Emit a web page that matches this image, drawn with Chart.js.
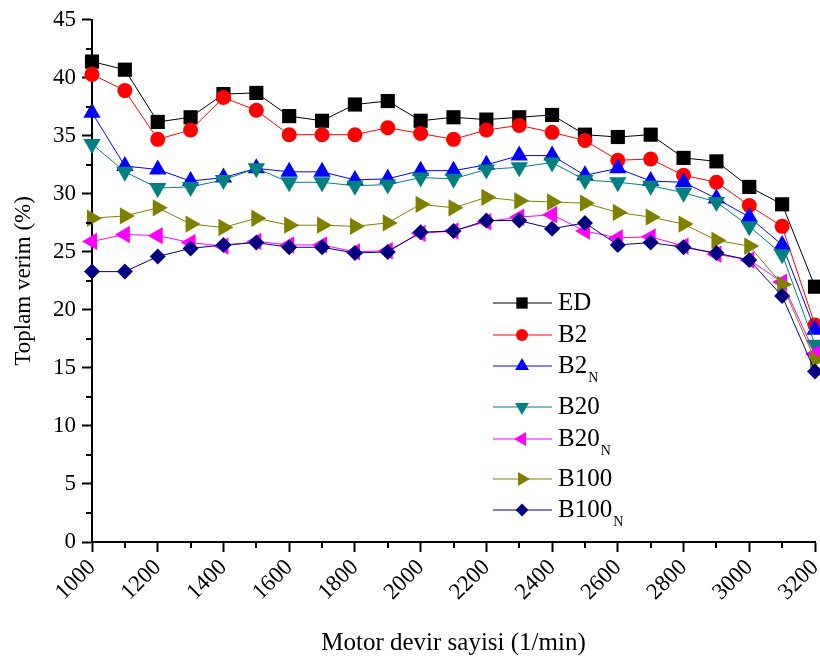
<!DOCTYPE html>
<html>
<head>
<meta charset="utf-8">
<script src="https://cdn.jsdelivr.net/npm/chart.js@4/dist/chart.umd.min.js"></script>
<style>
  html, body { margin: 0; padding: 0; background: #fff; }
  #wrap { width: 820px; height: 666px; }
</style>
</head>
<body>
<div id="wrap"><canvas id="effChart"></canvas></div>
<script>
// motor speed (1/min)
const rpm = [1000, 1100, 1200, 1300, 1400, 1500, 1600, 1700, 1800, 1900, 2000, 2100,
             2200, 2300, 2400, 2500, 2600, 2700, 2800, 2900, 3000, 3100, 3200];

// total efficiency (%) per fuel
const ED    = [41.4, 40.7, 36.2, 36.6, 38.6, 38.7, 36.7, 36.3, 37.7, 38.0, 36.3, 36.6, 36.4, 36.6, 36.8, 35.1, 34.9, 35.1, 33.1, 32.8, 30.6, 29.1, 22.0];
const B2    = [40.3, 38.9, 34.7, 35.5, 38.3, 37.2, 35.1, 35.1, 35.1, 35.7, 35.2, 34.7, 35.5, 35.9, 35.3, 34.6, 32.9, 33.0, 31.6, 31.0, 29.0, 27.2, 18.7];
const B2N   = [37.0, 32.4, 32.1, 31.1, 31.4, 32.2, 31.9, 31.9, 31.2, 31.3, 32.0, 32.0, 32.5, 33.3, 33.3, 31.6, 32.2, 31.1, 31.0, 29.6, 28.0, 25.6, 18.3];
const B20   = [34.3, 31.9, 30.5, 30.6, 31.2, 32.2, 31.0, 31.0, 30.7, 30.8, 31.4, 31.3, 32.1, 32.3, 32.7, 31.2, 31.0, 30.7, 30.1, 29.3, 27.2, 24.8, 17.0];
const B20N  = [25.9, 26.5, 26.4, 25.8, 25.5, 25.9, 25.6, 25.6, 25.0, 25.1, 26.6, 26.8, 27.6, 28.0, 28.2, 26.8, 26.2, 26.3, 25.5, 24.8, 24.3, 22.4, 16.2];
const B100  = [27.9, 28.1, 28.8, 27.4, 27.1, 27.9, 27.3, 27.3, 27.2, 27.5, 29.1, 28.8, 29.7, 29.4, 29.3, 29.2, 28.4, 28.0, 27.4, 26.0, 25.5, 22.2, 15.7];
const B100N = [23.3, 23.3, 24.6, 25.3, 25.6, 25.8, 25.4, 25.4, 24.9, 25.0, 26.7, 26.8, 27.7, 27.7, 27.0, 27.5, 25.6, 25.8, 25.4, 24.9, 24.3, 21.2, 14.7];

const seriesNames = ['ED', 'B2', 'B2N', 'B20', 'B20N', 'B100', 'B100N'];
const seriesData = [ED, B2, B2N, B20, B20N, B100, B100N];

// look of each series (Origin style)
const looks = [
    { color: '#000000', style: 'rect',     radius: 10,  rotation: 0 },
    { color: '#ff0000', style: 'circle',   radius: 7.5, rotation: 0 },
    { color: '#0000ff', style: 'triangle', radius: 10,  rotation: 0 },
    { color: '#008080', style: 'triangle', radius: 10,  rotation: 180 },
    { color: '#ff00ff', style: 'triangle', radius: 10,  rotation: 270 },
    { color: '#808000', style: 'triangle', radius: 10,  rotation: 90 },
    { color: '#000080', style: 'rectRot',  radius: 8,   rotation: 0 }
];

const FONT = "'Liberation Serif', 'Times New Roman', serif";

const datasets = seriesNames.map((name, i) => ({
    label: name,
    data: rpm.map((x, j) => ({ x: x, y: seriesData[i][j] })),
    borderColor: looks[i].color,
    backgroundColor: looks[i].color,
    borderWidth: 1,
    pointStyle: looks[i].style,
    pointRadius: looks[i].radius,
    pointRotation: looks[i].rotation,
    pointBorderWidth: 0,
    pointHoverRadius: looks[i].radius,
    tension: 0,
    clip: false,
    order: seriesNames.length - i // later series on top, like the original
}));

// minor ticks between the labelled ones
const minorTicks = {
    id: 'minorTicks',
    afterDraw(chart) {
        const ctx = chart.ctx;
        const xs = chart.scales.x, ys = chart.scales.y;
        ctx.save();
        ctx.strokeStyle = '#000';
        ctx.lineWidth = 2;
        ctx.beginPath();
        for (let v = 1100; v < 3200; v += 200) {
            const px = Math.round(xs.getPixelForValue(v));
            ctx.moveTo(px, ys.bottom);
            ctx.lineTo(px, ys.bottom + 6);
        }
        for (let v = 2.5; v < 45; v += 5) {
            const py = Math.round(ys.getPixelForValue(v));
            ctx.moveTo(xs.left, py);
            ctx.lineTo(xs.left - 6, py);
        }
        ctx.stroke();
        ctx.restore();
    }
};

// legend with subscripts, drawn in the plot like Origin does
const subLegend = {
    id: 'subLegend',
    afterDraw(chart) {
        const ctx = chart.ctx;
        const rows = [303, 335, 366, 407, 439, 479, 510];
        const x0 = 493, x1 = 552, xm = 522, xt = 558;
        ctx.save();
        seriesNames.forEach((name, i) => {
            const y = rows[i];
            const lk = looks[i];
            ctx.strokeStyle = lk.color;
            ctx.lineWidth = 1;
            ctx.beginPath();
            ctx.moveTo(x0, y);
            ctx.lineTo(x1, y);
            ctx.stroke();
            ctx.fillStyle = lk.color;
            Chart.helpers.drawPoint(ctx, {
                pointStyle: lk.style,
                radius: lk.radius * 0.8,
                rotation: lk.rotation,
                borderWidth: 0
            }, xm, y);

            const hasSub = name.endsWith('N');
            const main = hasSub ? name.slice(0, -1) : name;
            ctx.fillStyle = '#000';
            ctx.textBaseline = 'middle';
            ctx.textAlign = 'left';
            ctx.font = '25px ' + FONT;
            ctx.fillText(main, xt, y);
            if (hasSub) {
                const w = ctx.measureText(main).width;
                ctx.font = '14px ' + FONT;
                ctx.fillText('N', xt + w + 1, y + 12);
            }
        });
        ctx.restore();
    }
};

new Chart(document.getElementById('effChart').getContext('2d'), {
    type: 'line',
    data: { datasets },
    options: {
        responsive: true,
        maintainAspectRatio: false,
        animation: false,
        events: [],
        layout: { autoPadding: false, padding: { top: 12, right: 5, left: 10, bottom: 0 } },
        plugins: {
            legend: { display: false },
            tooltip: { enabled: false }
        },
        scales: {
            x: {
                type: 'linear',
                min: 1000,
                max: 3200,
                border: { display: true, color: '#000', width: 2 },
                grid: { drawOnChartArea: false, drawTicks: true, tickLength: 10, tickWidth: 2, tickColor: '#000' },
                ticks: {
                    stepSize: 200,
                    minRotation: 45,
                    maxRotation: 45,
                    color: '#000',
                    padding: 2,
                    font: { family: FONT, size: 23 },
                    callback: v => String(v)
                },
                title: {
                    display: true,
                    text: 'Motor devir sayisi (1/min)',
                    color: '#000',
                    font: { family: FONT, size: 25 },
                    padding: { top: 0, bottom: 8 }
                },
                afterFit(scale) {
                    scale.height = 124;
                    scale.paddingLeft = 0;
                    scale.paddingRight = 0;
                }
            },
            y: {
                min: 0,
                max: 45,
                border: { display: true, color: '#000', width: 2 },
                grid: { drawOnChartArea: false, drawTicks: true, tickLength: 10, tickWidth: 2, tickColor: '#000' },
                ticks: {
                    stepSize: 5,
                    color: '#000',
                    padding: 6,
                    font: { family: FONT, size: 23 }
                },
                title: {
                    display: true,
                    text: 'Toplam verim (%)',
                    color: '#000',
                    font: { family: FONT, size: 23 },
                    padding: { top: 0, bottom: 4 }
                },
                afterFit(scale) { scale.width = 82; }
            }
        }
    },
    plugins: [minorTicks, subLegend]
});
</script>
</body>
</html>
